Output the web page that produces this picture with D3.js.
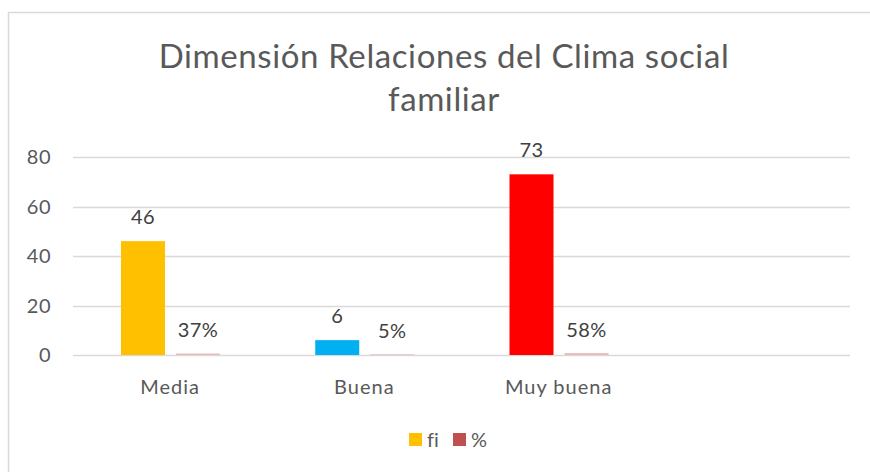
<!DOCTYPE html>
<html><head><meta charset="utf-8">
<script src="https://cdn.jsdelivr.net/npm/d3@7"></script>
<style>body{margin:0;background:#fff}svg{display:block;font-family:Lato,"Open Sans",sans-serif;font-variant-ligatures:none}</style>
</head><body>
<script>
const categories = ["Media", "Buena", "Muy buena", ""];
const fiValues = [46, 6, 73, null];
const pctValues = [0.37, 0.05, 0.58, null];
const pctLabels = ["37%", "5%", "58%", null];
const fiColors = ["#FFC000", "#00B0F0", "#FF0000", null];
const seriesNames = ["fi", "%"];
const legendColors = ["#FFC000", "#C0504D"];
const yTicks = [0, 20, 40, 60, 80];
const title = ["Dimensión Relaciones del Clima social", "familiar"];

const W = 870, H = 472;
const svg = d3.select("body").append("svg").attr("width", W).attr("height", H);
svg.append("rect").attr("x", 8.5).attr("y", 12.5).attr("width", W).attr("height", H)
  .attr("fill", "#fff").attr("stroke", "#d9d9d9").attr("stroke-width", 1.5);

const x0 = d3.scaleBand().domain(categories).range([73, 850]).padding(0);
const x1 = d3.scaleBand().domain(seriesNames).range([48, 147]).paddingInner(0.2).paddingOuter(0);
const y = d3.scaleLinear().domain([0, 80]).range([355, 157]);

// gridlines
svg.append("g").selectAll("line").data(yTicks).join("line")
  .attr("x1", 73).attr("x2", 850)
  .attr("y1", d => Math.round(y(d)) + 0.5).attr("y2", d => Math.round(y(d)) + 0.5)
  .attr("stroke", "#d9d9d9").attr("stroke-width", 1.3);

// y labels
svg.append("g").selectAll("text").data(yTicks).join("text")
  .attr("x", 51).attr("y", d => y(d) + 7).attr("text-anchor", "end")
  .attr("font-size", 20).attr("letter-spacing", 0.5).attr("fill", "#595959").text(d => d);

const data = categories.map((c, i) => ({c, fi: fiValues[i], pct: pctValues[i], lab: pctLabels[i], col: fiColors[i]})).filter(d => d.fi != null);

const g = svg.append("g");
// fi bars
g.selectAll("rect.fi").data(data).join("rect").attr("class", "fi")
  .attr("x", d => x0(d.c) + x1("fi")).attr("width", x1.bandwidth())
  .attr("y", d => y(d.fi)).attr("height", d => y(0) - y(d.fi)).attr("fill", d => d.col);
// % bars
g.selectAll("rect.pct").data(data).join("rect").attr("class", "pct")
  .attr("x", d => x0(d.c) + x1("%")).attr("width", x1.bandwidth())
  .attr("y", d => y(d.pct) - 0.6).attr("height", d => y(0) - y(d.pct) + 0.6).attr("fill", "#C0504D").attr("opacity", 0.35);

// labels
g.selectAll("text.fil").data(data).join("text")
  .attr("x", d => x0(d.c) + x1("fi") + x1.bandwidth() / 2).attr("y", d => y(d.fi) - 17)
  .attr("text-anchor", "middle").attr("font-size", 20).attr("letter-spacing", 0.5).attr("fill", "#404040").text(d => d.fi);
g.selectAll("text.pcl").data(data).join("text")
  .attr("x", d => x0(d.c) + x1("%") + x1.bandwidth() / 2).attr("y", d => y(d.pct) - 17)
  .attr("text-anchor", "middle").attr("font-size", 20).attr("letter-spacing", 0.5).attr("fill", "#404040").text(d => d.lab);

// category labels
svg.append("g").selectAll("text").data(categories).join("text")
  .attr("x", d => x0(d) + x0.bandwidth() / 2).attr("y", 394)
  .attr("text-anchor", "middle").attr("font-size", 20).attr("letter-spacing", 1).attr("fill", "#595959").text(d => d);

// title
svg.append("g").selectAll("text").data(title).join("text")
  .attr("x", 444).attr("y", (d, i) => 68 + i * 43).attr("text-anchor", "middle")
  .attr("font-size", 33).attr("letter-spacing", 0.6).attr("fill", "#595959").text(d => d);

// legend
const lx = [409, 453];
const lg = svg.append("g").selectAll("g").data(seriesNames).join("g")
  .attr("transform", (d, i) => `translate(${lx[i]},433)`);
lg.append("rect").attr("width", 13).attr("height", 13).attr("fill", (d, i) => legendColors[i]);
lg.append("text").attr("x", 18).attr("y", 14).attr("font-size", 20).attr("fill", "#595959").text(d => d);
</script>
</body></html>
